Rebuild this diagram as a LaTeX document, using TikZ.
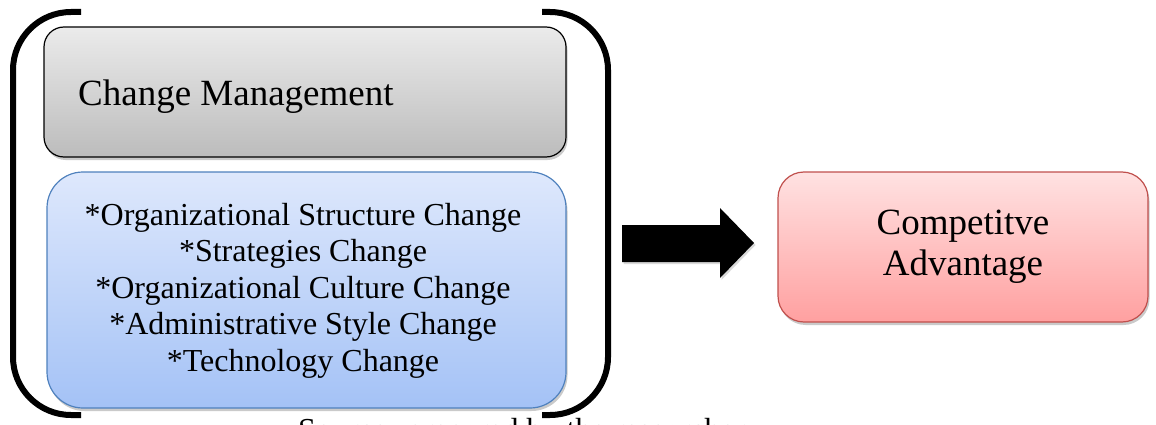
\documentclass[tikz,border=0pt]{standalone}
\usepackage{fontspec}
\setmainfont{Liberation Serif}
\usetikzlibrary{shadows}
\definecolor{grayTop}{HTML}{EBEBEB}
\definecolor{grayBot}{HTML}{BCBCBC}
\definecolor{blueTop}{HTML}{DEE8FC}
\definecolor{blueBot}{HTML}{A4C2F6}
\definecolor{blueEdge}{HTML}{4F81BD}
\definecolor{redTop}{HTML}{FFE2E2}
\definecolor{redBot}{HTML}{FFA0A0}
\definecolor{redEdge}{HTML}{C0504D}
\tikzset{
  boxshadow/.style={drop shadow={shadow xshift=1.5pt, shadow yshift=-3pt, opacity=0.35, fill=black!60}},
  graybox/.style={draw=black, line width=1.2pt, rounded corners=20pt, top color=grayTop, bottom color=grayBot, boxshadow},
  bluebox/.style={draw=blueEdge, line width=1.2pt, rounded corners=36pt, top color=blueTop, bottom color=blueBot, boxshadow},
  redbox/.style={draw=redEdge, line width=1.2pt, rounded corners=26pt, top color=redTop, bottom color=redBot, boxshadow},
  bracket/.style={line width=6pt, rounded corners=58pt},
  bigtxt/.style={font=\fontsize{37}{42}\selectfont},
  listtxt/.style={font=\fontsize{32}{36.5}\selectfont, align=center},
}
\begin{document}
\begin{tikzpicture}[x=1pt, y=-1pt]
\useasboundingbox (0,0) rectangle (1156,425);
% boxes
\node[graybox, minimum width=522pt, minimum height=130pt, inner sep=0pt] (cm) at (305,92) {};
\node[bigtxt, anchor=base west, inner sep=0pt] (cmtxt) at (78,106) {Change Management};
\node[bluebox, minimum width=519pt, minimum height=236pt, inner sep=0pt] (list) at (306.5,290) {};
\node[listtxt, inner sep=0pt] (listtxt) at (303,290.5) {*Organizational Structure Change\\*Strategies Change\\*Organizational Culture Change\\*Administrative Style Change\\*Technology Change};
\node[redbox, minimum width=370pt, minimum height=150pt, inner sep=0pt, bigtxt, align=center] (ca) at (963,247) {Competitve\\[-1pt]Advantage};
% brackets
\coordinate (ltop) at (81,12);
\coordinate (lbot) at (81,415);
\draw[bracket] (ltop) -- (13,12) -- (13,415) -- (lbot);
\coordinate (rtop) at (542,12);
\coordinate (rbot) at (542,415);
\draw[bracket] (rtop) -- (608,12) -- (608,415) -- (rbot);
% block arrow
\fill[black, drop shadow={shadow xshift=1.5pt, shadow yshift=-2pt, opacity=0.3}]
  (622,225) -- (720,225) -- (720,208) -- (754,243) -- (720,278) -- (720,262) -- (622,262) -- cycle;
% caption (cut off at the page bottom)
\node[font=\fontsize{32}{36}\selectfont, anchor=base west, inner sep=0pt] (src) at (298,440) {Source: prepared by the researcher};
\end{tikzpicture}
\end{document}
